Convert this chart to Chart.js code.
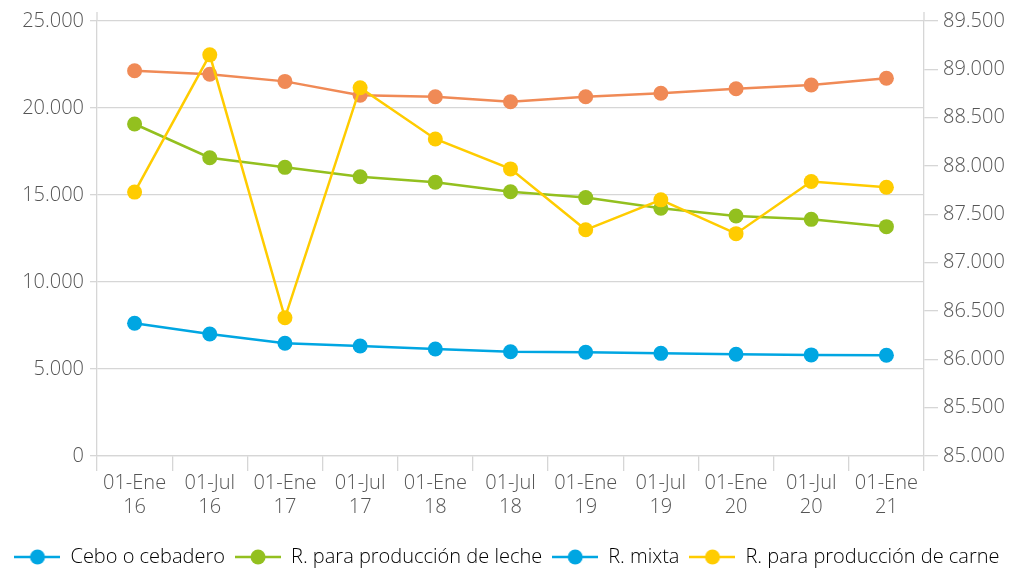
<!DOCTYPE html>
<html>
<head>
<meta charset="utf-8">
<script src="https://cdn.jsdelivr.net/npm/chart.js@4.4.0/dist/chart.umd.min.js"></script>
<style>
  html, body { margin: 0; padding: 0; background: #ffffff; }
  #wrap { width: 1014px; height: 568px; position: relative; }
</style>
</head>
<body>
<div id="wrap"><canvas id="c" width="1014" height="568"></canvas></div>
<script>
const categories = [
  ["01-Ene", "16"], ["01-Jul", "16"], ["01-Ene", "17"], ["01-Jul", "17"],
  ["01-Ene", "18"], ["01-Jul", "18"], ["01-Ene", "19"], ["01-Jul", "19"],
  ["01-Ene", "20"], ["01-Jul", "20"], ["01-Ene", "21"]
];
const seriesNames = ["Cebo o cebadero", "R. para producción de leche", "R. mixta", "R. para producción de carne"];
const cebo  = [7630, 7010, 6480, 6320, 6150, 5990, 5960, 5900, 5850, 5810, 5790];
const leche = [19080, 17140, 16590, 16050, 15730, 15190, 14850, 14240, 13790, 13600, 13180];
const mixta = [22140, 21940, 21530, 20730, 20650, 20360, 20650, 20850, 21110, 21320, 21710];
const carne = [87730, 89150, 86430, 88810, 88280, 87970, 87340, 87650, 87300, 87840, 87780];
const leftTicks = { min: 0, max: 25000, step: 5000 };
const rightTicks = { min: 85000, max: 89500, step: 500 };

const lineColors = ["#00A6E2", "#93C01F", "#F08A56", "#FFCC00"];
const legendColors = ["#00A6E2", "#93C01F", "#00A6E2", "#FFCC00"];

const fmt = v => String(Math.round(v)).replace(/\B(?=(\d{3})+(?!\d))/g, ".");
const FONT = "'Open Sans', 'Noto Sans', sans-serif";
const FW = 300;
const FS = 20;
const TICK_COLOR = "#555555";
const GRID_COLOR = "#d6d6d6";

function swatch(color) {
  const cv = document.createElement("canvas");
  cv.width = 46; cv.height = 16;
  const g = cv.getContext("2d");
  g.strokeStyle = color; g.lineWidth = 2.5;
  g.beginPath(); g.moveTo(0, 8); g.lineTo(46, 8); g.stroke();
  g.fillStyle = color;
  g.beginPath(); g.arc(23, 8, 7.5, 0, Math.PI * 2); g.fill();
  return cv;
}

function ds(label, data, color, axis, order) {
  return {
    label, data, yAxisID: axis, order,
    borderColor: color, backgroundColor: color,
    pointBackgroundColor: color, pointBorderColor: color,
    borderWidth: 2.5, pointRadius: 7.5, pointHoverRadius: 7.5,
    pointBorderWidth: 0, tension: 0, fill: false
  };
}

const axisExtend = {
  id: "axisExtend",
  afterLayout(chart) {
    if (chart.legend) { chart.legend.top += 9; chart.legend.bottom += 9; }
  },
  afterDraw(chart) {
    const a = chart.chartArea, ctx = chart.ctx;
    ctx.save();
    ctx.strokeStyle = GRID_COLOR; ctx.lineWidth = 1.3;
    [a.left, a.right].forEach(x => {
      ctx.beginPath(); ctx.moveTo(x, a.top - 9); ctx.lineTo(x, a.top); ctx.stroke();
    });
    ctx.restore();
  }
};

new Chart(document.getElementById("c"), {
  type: "line",
  data: {
    labels: categories,
    datasets: [
      ds(seriesNames[0], cebo, lineColors[0], "yL", 2),
      ds(seriesNames[1], leche, lineColors[1], "yL", 2),
      ds(seriesNames[2], mixta, lineColors[2], "yL", 3),
      ds(seriesNames[3], carne, lineColors[3], "yR", 0)
    ]
  },
  options: {
    responsive: false,
    animation: false,
    layout: { padding: { top: 21, left: 0, right: 0, bottom: 0 } },
    plugins: {
      tooltip: { enabled: false },
      legend: {
        position: "bottom",
        labels: {
          usePointStyle: true,
          pointStyleWidth: 46,
          padding: 10,
          color: "#444444",
          font: { family: FONT, size: FS, weight: FW },
          generateLabels(chart) {
            return chart.data.datasets.map((d, i) => ({
              text: d.label,
              fillStyle: legendColors[i],
              strokeStyle: legendColors[i],
              lineWidth: 0,
              pointStyle: swatch(legendColors[i]),
              datasetIndex: i,
              hidden: false
            }));
          }
        }
      }
    },
    scales: {
      x: {
        type: "category",
        offset: true,
        grid: { display: true, drawOnChartArea: false, drawTicks: true, tickLength: 15, offset: true, color: GRID_COLOR, lineWidth: 1.3 },
        border: { display: true, color: GRID_COLOR, width: 1.3 },
        ticks: { color: TICK_COLOR, font: { family: FONT, size: FS, weight: FW, lineHeight: 1.2 }, padding: 0, maxRotation: 0, autoSkip: false },
        afterFit(s) { s.height = 72; }
      },
      yL: {
        position: "left",
        min: leftTicks.min, max: leftTicks.max,
        grid: { color: GRID_COLOR, lineWidth: 1.3, drawTicks: true, tickLength: 7 },
        border: { display: true, color: GRID_COLOR, width: 1.3 },
        ticks: { stepSize: leftTicks.step, color: TICK_COLOR, font: { family: FONT, size: FS, weight: FW }, padding: 6, callback: v => fmt(v) },
        afterFit(s) { s.width = 97; }
      },
      yR: {
        position: "right",
        min: rightTicks.min, max: rightTicks.max,
        grid: { drawOnChartArea: false, drawTicks: true, tickLength: 14, color: GRID_COLOR, lineWidth: 1.3 },
        border: { display: true, color: GRID_COLOR, width: 1.3 },
        ticks: { stepSize: rightTicks.step, color: TICK_COLOR, font: { family: FONT, size: FS, weight: FW }, padding: 5, callback: v => fmt(v) },
        afterFit(s) { s.width = 90; }
      }
    }
  },
  plugins: [axisExtend]
});
</script>
</body>
</html>
